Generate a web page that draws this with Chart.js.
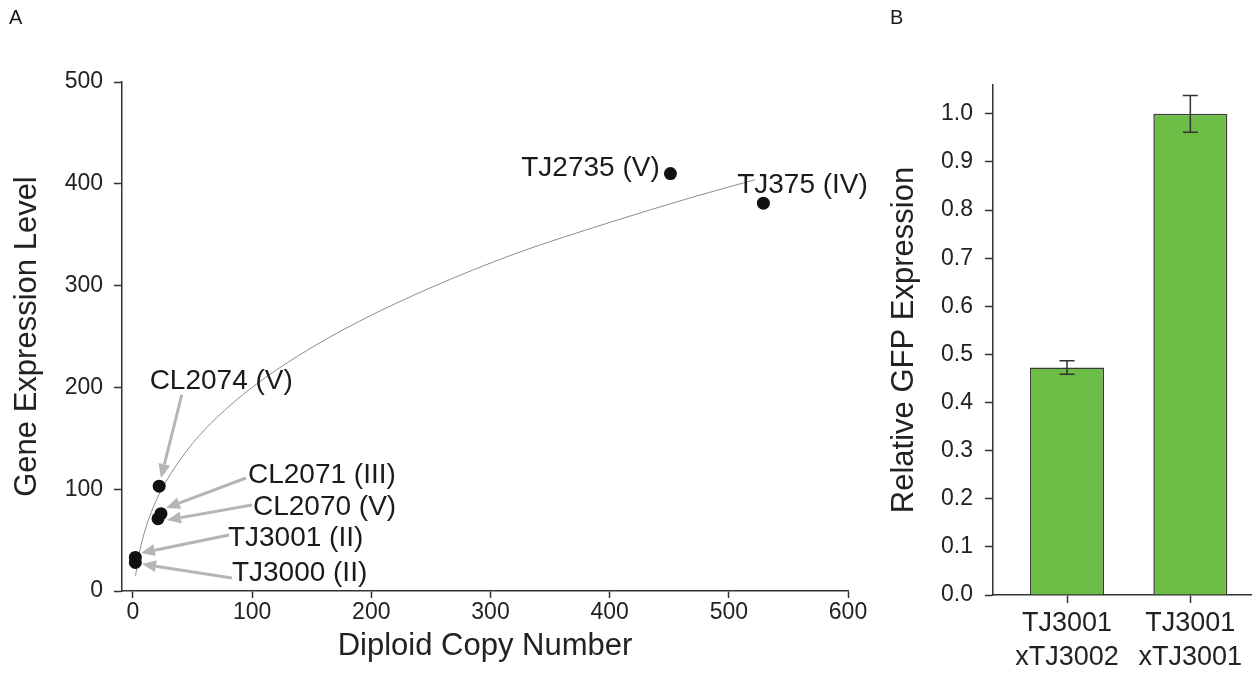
<!DOCTYPE html>
<html>
<head>
<meta charset="utf-8">
<script src="https://cdn.jsdelivr.net/npm/chart.js@4"></script>
<style>
  body { margin: 0; background: #fff; }
  #wrap { position: relative; width: 1252px; height: 692px; }
  #chartA { position: absolute; left: 0; top: 0; }
  #chartB { position: absolute; left: 880px; top: 0; }
</style>
</head>
<body>
<div id="wrap">
  <canvas id="chartA" width="880" height="692"></canvas>
  <canvas id="chartB" width="372" height="692"></canvas>
</div>
<script>
// Panel A: copias diploides vs nivel de expresion
const cepas = ['TJ2735 (V)', 'TJ375 (IV)', 'CL2074 (V)', 'CL2071 (III)', 'CL2070 (V)', 'TJ3001 (II)', 'TJ3000 (II)'];
const copias = [451, 529, 22, 23.5, 21, 2, 2];
const expresion = [410, 381, 103, 76, 71, 33, 28];

// Curva de ajuste
const ajusteX = [2.2, 4, 6, 9, 13, 18, 25, 35, 50, 70, 100, 140, 190, 250, 320, 400, 470, 522];
const ajusteY = [15, 29, 41, 55, 70, 85, 102, 121, 145, 170, 200, 232, 265, 298, 331, 362, 387, 404];

const ticksCopias = [0, 100, 200, 300, 400, 500, 600];
const ticksExpresion = [0, 100, 200, 300, 400, 500];

// Panel B: expresion relativa de GFP
const cruces = [['TJ3001', 'xTJ3002'], ['TJ3001', 'xTJ3001']];
const gfp = [0.473, 1.0];
const gfpError = [0.014, 0.038];
const ticksGfp = [0, 0.1, 0.2, 0.3, 0.4, 0.5, 0.6, 0.7, 0.8, 0.9, 1.0];

const fuente = "'Liberation Sans', Arial, sans-serif";
Chart.defaults.font.family = fuente;
Chart.defaults.color = '#222';

// Posicion de cada etiqueta (en unidades de datos) y su flecha [desdeX, desdeY, hastaX, hastaY]
const etiquetas = [
  { x: 442, y: 415, align: 'right' },
  { x: 507, y: 399, align: 'left' },
  { x: 14, y: 206, align: 'left', flecha: [41, 193, 23.5, 111] },
  { x: 96.5, y: 114, align: 'left', flecha: [94.8, 111, 27.7, 81.5] },
  { x: 100.7, y: 82.5, align: 'left', flecha: [99.9, 84.5, 28.5, 69.7] },
  { x: 79.7, y: 52, align: 'left', flecha: [80.6, 55, 6.7, 37.3] },
  { x: 83, y: 17.7, align: 'left', flecha: [83, 12.8, 7.6, 26.5] }
];

const anotaciones = {
  id: 'anotaciones',
  beforeDatasetsDraw(chart) {
    const { ctx, scales: { x, y } } = chart;
    ctx.save();
    ctx.strokeStyle = '#b5b5b5';
    ctx.fillStyle = '#b5b5b5';
    ctx.lineWidth = 3;
    etiquetas.forEach(e => {
      if (!e.flecha) return;
      const x0 = x.getPixelForValue(e.flecha[0]), y0 = y.getPixelForValue(e.flecha[1]);
      const x1 = x.getPixelForValue(e.flecha[2]), y1 = y.getPixelForValue(e.flecha[3]);
      const ang = Math.atan2(y1 - y0, x1 - x0);
      const largo = 14, ancho = 6;
      const bx = x1 - largo * Math.cos(ang), by = y1 - largo * Math.sin(ang);
      ctx.beginPath();
      ctx.moveTo(x0, y0);
      ctx.lineTo(bx, by);
      ctx.stroke();
      ctx.beginPath();
      ctx.moveTo(x1, y1);
      ctx.lineTo(bx + ancho * Math.sin(ang), by - ancho * Math.cos(ang));
      ctx.lineTo(bx - ancho * Math.sin(ang), by + ancho * Math.cos(ang));
      ctx.closePath();
      ctx.fill();
    });
    ctx.restore();
  },
  afterDatasetsDraw(chart) {
    const { ctx, scales: { x, y } } = chart;
    ctx.save();
    ctx.font = '28px ' + fuente;
    ctx.fillStyle = '#1a1a1a';
    ctx.textBaseline = 'middle';
    etiquetas.forEach((e, i) => {
      ctx.textAlign = e.align;
      ctx.fillText(cepas[i], x.getPixelForValue(e.x), y.getPixelForValue(e.y));
    });
    ctx.restore();
  },
  afterDraw(chart) {
    const ctx = chart.ctx;
    ctx.save();
    ctx.font = '20px ' + fuente;
    ctx.fillStyle = '#1a1a1a';
    ctx.textAlign = 'left';
    ctx.textBaseline = 'alphabetic';
    ctx.fillText('A', 9, 24);
    ctx.restore();
  }
};

new Chart(document.getElementById('chartA'), {
  type: 'scatter',
  data: {
    datasets: [
      {
        label: 'Cepas',
        data: copias.map((c, i) => ({ x: c, y: expresion[i] })),
        pointRadius: 6.5,
        pointBackgroundColor: '#111',
        pointBorderColor: '#111',
        pointBorderWidth: 0
      },
      {
        label: 'Ajuste',
        type: 'line',
        data: ajusteX.map((v, i) => ({ x: v, y: ajusteY[i] })),
        borderColor: '#8c8c8c',
        borderWidth: 1,
        pointRadius: 0,
        cubicInterpolationMode: 'monotone',
        fill: false
      }
    ]
  },
  options: {
    responsive: false,
    animation: false,
    devicePixelRatio: 1,
    layout: { padding: { top: 82, right: 32, left: 0, bottom: 0 } },
    plugins: { legend: { display: false }, tooltip: { enabled: false } },
    scales: {
      x: {
        type: 'linear',
        min: -9.2,
        max: 600,
        afterBuildTicks: s => { s.ticks = ticksCopias.map(v => ({ value: v })); },
        afterFit: s => { s.height = 101; },
        grid: { drawOnChartArea: false, tickLength: 7, tickColor: '#333', tickWidth: 1.5 },
        border: { color: '#333', width: 1.5 },
        ticks: { font: { size: 23 }, color: '#222', padding: 1, maxRotation: 0 },
        title: { display: true, text: 'Diploid Copy Number', font: { size: 31 }, color: '#222', padding: { top: 0, bottom: 27 } }
      },
      y: {
        type: 'linear',
        min: 0,
        max: 500,
        afterBuildTicks: s => { s.ticks = ticksExpresion.map(v => ({ value: v })); },
        afterFit: s => { s.width = 122; },
        grid: { drawOnChartArea: false, tickLength: 8, tickColor: '#333', tickWidth: 1.5 },
        border: { color: '#333', width: 1.5 },
        ticks: { font: { size: 23 }, color: '#222', padding: 11 },
        title: { display: true, text: 'Gene Expression Level', font: { size: 31 }, color: '#222', padding: { top: 9, bottom: 0 } }
      }
    }
  },
  plugins: [anotaciones]
});

const barrasError = {
  id: 'barrasError',
  afterDatasetsDraw(chart) {
    const { ctx, scales: { y } } = chart;
    const meta = chart.getDatasetMeta(0);
    ctx.save();
    ctx.strokeStyle = '#333';
    ctx.lineWidth = 1.5;
    meta.data.forEach((barra, i) => {
      const xc = barra.x;
      const yTop = y.getPixelForValue(gfp[i] + gfpError[i]);
      const yBot = y.getPixelForValue(gfp[i] - gfpError[i]);
      ctx.beginPath();
      ctx.moveTo(xc, yTop); ctx.lineTo(xc, yBot);
      ctx.moveTo(xc - 7.5, yTop); ctx.lineTo(xc + 7.5, yTop);
      ctx.moveTo(xc - 7.5, yBot); ctx.lineTo(xc + 7.5, yBot);
      ctx.stroke();
    });
    ctx.restore();
  },
  afterDraw(chart) {
    const ctx = chart.ctx;
    ctx.save();
    ctx.font = '20px ' + fuente;
    ctx.fillStyle = '#1a1a1a';
    ctx.textAlign = 'left';
    ctx.textBaseline = 'alphabetic';
    ctx.fillText('B', 10, 24);
    ctx.restore();
  }
};

new Chart(document.getElementById('chartB'), {
  type: 'bar',
  data: {
    datasets: [{
      label: 'GFP',
      data: gfp.map((v, i) => ({ x: i + 1, y: v })),
      backgroundColor: '#6cbd45',
      borderColor: '#3a3a3a',
      borderWidth: 1.5,
      barPercentage: 0.6,
      categoryPercentage: 1
    }]
  },
  options: {
    responsive: false,
    animation: false,
    devicePixelRatio: 1,
    layout: { padding: { top: 85, right: 0, left: 0, bottom: 0 } },
    plugins: { legend: { display: false }, tooltip: { enabled: false } },
    scales: {
      x: {
        type: 'linear',
        min: 0.4,
        max: 2.5,
        offset: false,
        afterBuildTicks: s => { s.ticks = cruces.map((c, i) => ({ value: i + 1 })); },
        afterFit: s => { s.height = 97; },
        grid: { offset: false, drawOnChartArea: false, tickLength: 8, tickColor: '#333', tickWidth: 1.5 },
        border: { color: '#333', width: 1.5 },
        ticks: {
          font: { size: 27, lineHeight: 1.28 },
          color: '#222',
          padding: 3,
          maxRotation: 0,
          callback: (v, i) => cruces[i]
        }
      },
      y: {
        type: 'linear',
        min: 0,
        max: 1.06,
        afterBuildTicks: s => { s.ticks = ticksGfp.map(v => ({ value: v })); },
        afterFit: s => { s.width = 113; },
        grid: { drawOnChartArea: false, tickLength: 8, tickColor: '#333', tickWidth: 1.5 },
        border: { color: '#333', width: 1.5 },
        ticks: { font: { size: 23 }, color: '#222', padding: 12, callback: v => v.toFixed(1) },
        title: { display: true, text: 'Relative GFP Expression', font: { size: 31 }, color: '#222', padding: { top: 6, bottom: 0 } }
      }
    }
  },
  plugins: [barrasError]
});
</script>
</body>
</html>
